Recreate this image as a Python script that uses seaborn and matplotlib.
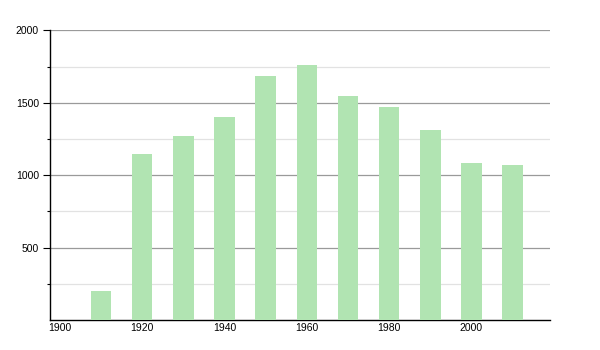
import matplotlib
matplotlib.use("Agg")
import matplotlib.pyplot as plt
import seaborn as sns
import pandas as pd
from matplotlib.ticker import FixedLocator

years = [1910, 1920, 1930, 1940, 1950, 1960, 1970, 1980, 1990, 2000, 2010]
population = [198, 1145, 1270, 1401, 1684, 1760, 1546, 1468, 1312, 1081, 1068]
x_ticks = [1900, 1920, 1940, 1960, 1980, 2000]
y_ticks = [500, 1000, 1500, 2000]

df = pd.DataFrame({"year": years, "population": population})

sns.set_style("white")
plt.rcParams["font.family"] = ["Liberation Sans", "DejaVu Sans"]

fig = plt.figure(figsize=(6, 3.5), dpi=100)
ax = fig.add_axes([50 / 600, 30 / 350, 500 / 600, 289.7 / 350])

sns.barplot(data=df, x="year", y="population", native_scale=True, width=0.5,
            color="#b1e4b2", saturation=1, linewidth=0, ax=ax, zorder=3)

ax.set_xlim(1897.6, 2019.1)
ax.set_ylim(0, 2000)

ax.yaxis.set_major_locator(FixedLocator(y_ticks))
ax.yaxis.set_minor_locator(FixedLocator([250, 750, 1250, 1750]))
ax.xaxis.set_major_locator(FixedLocator(x_ticks))
ax.set_xticklabels([str(t) for t in x_ticks])
ax.set_yticklabels([str(t) for t in y_ticks])

ax.grid(axis="y", which="major", color="#9a9a9a", linewidth=0.9, zorder=1)
ax.grid(axis="y", which="minor", color="#e2e2e2", linewidth=0.9, zorder=1)
ax.set_axisbelow(True)

for s in ["top", "right"]:
    ax.spines[s].set_visible(False)
ax.spines["left"].set_color("black")
ax.spines["bottom"].set_color("black")
ax.spines["left"].set_linewidth(1.0)
ax.spines["bottom"].set_linewidth(1.0)

ax.tick_params(axis="y", which="major", length=5, width=0.8, color="black",
               labelsize=7.5, labelcolor="black", pad=3, left=True)
ax.tick_params(axis="y", which="minor", length=2, width=0.8, color="black", left=True)
ax.tick_params(axis="x", which="major", length=0, labelsize=7.5,
               labelcolor="black", pad=2)

ax.set_xlabel("")
ax.set_ylabel("")

fig.savefig("out.png", dpi=100)
